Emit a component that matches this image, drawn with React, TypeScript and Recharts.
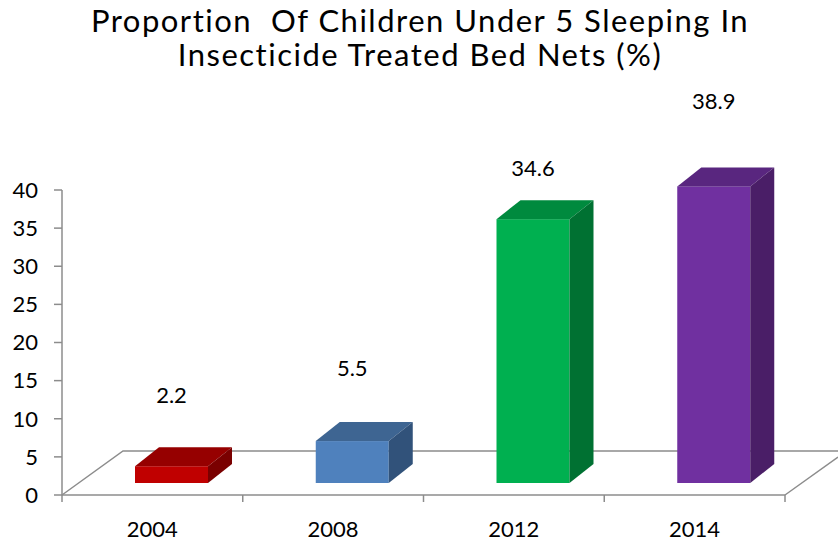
import { BarChart, Bar, XAxis, YAxis, LabelList, Cell } from "recharts";

const YEARS = ["2004", "2008", "2012", "2014"];
const VALUES = [2.2, 5.5, 34.6, 38.9];
const Y_TICKS = [0, 5, 10, 15, 20, 25, 30, 35, 40];
const TITLE = ["Proportion  Of Children Under 5 Sleeping In", "Insecticide Treated Bed Nets (%)"];

// face colours per bar: front, top, side
const FACES = [
  { front: "#C00000", top: "#960000", side: "#7A0000" },
  { front: "#4F81BD", top: "#3E6592", side: "#31527A" },
  { front: "#00B050", top: "#008A3E", side: "#007132" },
  { front: "#7030A0", top: "#59267F", side: "#4A1E67" },
];
// how far above the bar each value label sits (px), Excel-ish placement
const LABEL_LIFT = [63, 65, 43, 77];

const data = YEARS.map((year, i) => ({ year, value: VALUES[i] }));

const W = 838;
const H = 543;
const FONT = "Lato, 'Open Sans', sans-serif";
const AXIS = "#8c8c8c";

// 3d box settings
const SHIFT_X = 19;
const LIFT = 12;
const DX = 24;
const DY = 19;

function Box3D(props: any) {
  const { x, y, width, height, index } = props;
  const c = FACES[index % FACES.length];
  const fx = x + SHIFT_X;
  const top = y - LIFT;
  const bottom = y + height - LIFT;
  const r = fx + width;
  return (
    <g>
      <rect x={fx} y={top} width={width} height={bottom - top} fill={c.front} />
      <polygon
        points={`${fx},${top} ${fx + DX},${top - DY} ${r + DX},${top - DY} ${r},${top}`}
        fill={c.top}
      />
      <polygon
        points={`${r},${top} ${r + DX},${top - DY} ${r + DX},${bottom - DY} ${r},${bottom}`}
        fill={c.side}
      />
    </g>
  );
}

function ValueLabel(props: any) {
  const { x, y, width, value, index } = props;
  return (
    <text
      x={x + width / 2 + SHIFT_X}
      y={y - LIFT - LABEL_LIFT[index]}
      textAnchor="middle"
      fontSize={22}
      fontFamily={FONT}
      fill="#000"
    >
      {value}
    </text>
  );
}

function YearTick(props: any) {
  const { x, y, payload, index, visibleTicksCount } = props;
  const half = payload.offset || 90.4;
  const last = index === (visibleTicksCount ?? YEARS.length) - 1;
  return (
    <g>
      <line x1={x - half} y1={y} x2={x - half} y2={y + 7} stroke={AXIS} strokeWidth={1.5} />
      {last && <line x1={x + half} y1={y} x2={x + half} y2={y + 7} stroke={AXIS} strokeWidth={1.5} />}
      <text x={x} y={y + 42} textAnchor="middle" fontSize={22} fontFamily={FONT} fill="#000">
        {payload.value}
      </text>
    </g>
  );
}

export default function App() {
  return (
    <div style={{ position: "absolute", left: 0, top: 0, width: W, height: H, background: "#fff" }}>
      {/* title and floor of the 3d plot */}
      <svg width={W} height={H} style={{ position: "absolute", left: 0, top: 0 }}>
        {TITLE.map((line, i) => (
          <text
            key={i}
            x={420}
            y={32 + i * 34}
            textAnchor="middle"
            fontSize={31}
            letterSpacing={1.5}
            fontFamily={FONT}
            fill="#000"
            style={{ whiteSpace: "pre", fontVariantLigatures: "none" }}
          >
            {line}
          </text>
        ))}
        <polyline
          points="62,495 123,451 838,451"
          fill="none"
          stroke={AXIS}
          strokeWidth={1.5}
        />
        <line x1={785} y1={495} x2={838} y2={457} stroke={AXIS} strokeWidth={1.5} />
      </svg>

      <div style={{ position: "absolute", left: 0, top: 0 }}>
        <BarChart width={W} height={H} data={data} margin={{ top: 190, right: 53, bottom: 0, left: 2 }} barSize={73}>
          <XAxis
            dataKey="year"
            height={48}
            axisLine={{ stroke: AXIS, strokeWidth: 1.5 }}
            tickLine={false}
            tickSize={0}
            tickMargin={0}
            tick={<YearTick />}
            interval={0}
          />
          <YAxis
            width={60}
            domain={[0, 40]}
            ticks={Y_TICKS}
            interval={0}
            axisLine={{ stroke: AXIS, strokeWidth: 1.5 }}
            tickLine={{ stroke: AXIS, strokeWidth: 1.5 }}
            tickSize={8}
            tickMargin={16}
            tick={{ fill: "#000", fontSize: 22, fontFamily: FONT }}
          />
          <Bar dataKey="value" shape={<Box3D />} isAnimationActive={false}>
            {data.map((_, i) => (
              <Cell key={i} fill={FACES[i].front} />
            ))}
            <LabelList dataKey="value" content={<ValueLabel />} />
          </Bar>
        </BarChart>
      </div>
    </div>
  );
}
